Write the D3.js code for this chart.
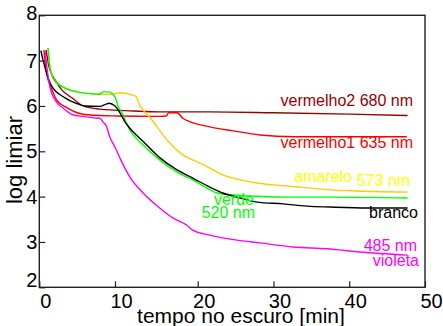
<!DOCTYPE html>
<html>
<head>
<meta charset="utf-8">
<script src="https://cdn.jsdelivr.net/npm/d3@7"></script>
<style>
  body { margin: 0; background: #fff; }
  svg { display: block; font-family: "Liberation Sans", Arial, sans-serif; }
</style>
</head>
<body>
<div id="chart"></div>
<script>
// dark adaptation curves, [time in min, log threshold]
var vermelho2 = [[0.9,7.23],[1.3,6.85],[2.1,6.57],[3.0,6.35],[4.3,6.18],[5.8,6.0],[8.0,5.93],[12.2,5.89],[15.4,5.87],[21.6,5.87],[30,5.85],[40,5.82],[47.7,5.79]];
var vermelho1 = [[0.6,7.23],[1.0,6.7],[1.7,6.35],[2.3,6.13],[3.7,5.96],[5.0,5.85],[6.7,5.8],[10.2,5.78],[15.4,5.77],[16.2,5.78],[16.5,5.85],[17.5,5.85],[18.2,5.73],[19.1,5.65],[21.6,5.54],[24.7,5.45],[28.2,5.36],[32.6,5.32],[37.1,5.32],[41.4,5.32],[47.6,5.32]];
var amarelo = [[1.15,7.28],[1.4,6.86],[1.8,6.62],[2.7,6.46],[4.1,6.35],[5.8,6.29],[8.0,6.26],[9.6,6.26],[10.6,6.29],[12.1,6.24],[12.6,6.2],[12.8,6.09],[13.4,5.91],[14.2,5.75],[16.3,5.25],[18.2,4.92],[20.3,4.74],[21.6,4.63],[23.3,4.48],[25.6,4.37],[27.8,4.3],[32.2,4.23],[37.5,4.15],[40.1,4.13],[47.7,4.1]];
var verde = [[1.15,7.28],[1.4,6.86],[1.8,6.62],[2.7,6.46],[4.1,6.35],[5.8,6.29],[8.0,6.26],[8.4,6.31],[9.1,6.31],[10.0,6.2],[10.4,5.98],[10.85,5.85],[11.45,5.6],[11.8,5.47],[13.4,5.14],[15.4,4.81],[17.5,4.54],[19.4,4.37],[21.2,4.19],[22.6,4.08],[24.3,4.04],[27.8,4.01],[32.2,3.99],[37.5,3.99],[47.7,3.97]];
var branco = [[0.2,7.22],[1.0,6.7],[1.6,6.45],[3.4,6.18],[4.7,6.07],[6.0,6.0],[8.0,5.99],[8.8,6.04],[9.2,6.06],[10.0,6.0],[10.6,5.85],[11.2,5.65],[11.8,5.51],[13.5,5.2],[15.4,4.86],[17.5,4.59],[19.4,4.41],[21.6,4.21],[23.3,4.08],[25.6,3.97],[27.8,3.88],[31.3,3.84],[34.4,3.79],[37.5,3.77],[42.4,3.75],[47.7,3.75]];
var violeta = [[0.75,7.23],[1.0,6.86],[1.4,6.42],[2.1,6.13],[3.1,5.96],[4.5,5.8],[6.3,5.76],[7.6,5.73],[8.0,5.73],[8.4,5.65],[8.9,5.54],[9.3,5.32],[10.0,5.09],[10.7,4.81],[11.8,4.43],[13.4,4.08],[15.4,3.75],[17.0,3.53],[18.7,3.37],[19.4,3.26],[21.6,3.15],[25.2,3.04],[28.2,2.98],[32.6,2.89],[37.1,2.85],[41.4,2.78],[47.7,2.71]];

var xTicks = [0, 10, 20, 30, 40, 50];
var yTicks = [2, 3, 4, 5, 6, 7, 8];

var w = 443, h = 326;

var svg = d3.select("#chart").append("svg")
    .attr("width", w)
    .attr("height", h);

// the source figure is slightly uneven between 10 and 20 min
var x = d3.scaleLinear()
    .domain([0, 10, 20, 50])
    .range([39.3, 115, 197.7, 425]);
var y = d3.scaleLinear()
    .domain([2, 8])
    .range([287.3, 15.3]);

var series = [
    {data: vermelho2, color: "#990000"},
    {data: vermelho1, color: "#ff0000"},
    {data: amarelo, color: "#ffcc00"},
    {data: verde, color: "#00ff00"},
    {data: branco, color: "#000000"},
    {data: violeta, color: "#ff00ff"}
];

var line = d3.line()
    .x(function (d) { return x(d[0]); })
    .y(function (d) { return y(d[1]); })
    .curve(d3.curveMonotoneX);

svg.selectAll(".curve")
    .data(series)
    .enter()
    .append("path")
    .classed("curve", true)
    .attr("d", function (d) { return line(d.data); })
    .attr("fill", "none")
    .attr("stroke", function (d) { return d.color; })
    .attr("stroke-width", 1.4);

// axes with inward ticks
var xAxis = d3.axisBottom(x)
    .tickValues(xTicks)
    .tickFormat(d3.format("d"))
    .tickSizeInner(-6)
    .tickSizeOuter(0)
    .tickPadding(7);
var yAxis = d3.axisLeft(y)
    .tickValues(yTicks)
    .tickFormat(d3.format("d"))
    .tickSizeInner(-6)
    .tickSizeOuter(0)
    .tickPadding(2);

var gx = svg.append("g")
    .attr("transform", "translate(0," + y(2) + ")")
    .call(xAxis);
gx.selectAll("text")
    .attr("dx", 6)
    .style("font-size", "20px")
    .style("font-family", "Liberation Sans, Arial, sans-serif")
    .attr("fill", "#000");

var gy = svg.append("g")
    .attr("transform", "translate(" + x(0) + ",0)")
    .call(yAxis);
gy.selectAll("text")
    .style("font-size", "20px")
    .style("font-family", "Liberation Sans, Arial, sans-serif")
    .attr("fill", "#000")
    .attr("dy", function (d) {
        if (d === 2) return "-0.05em";
        if (d === 8) return "0.2em";
        return "0.32em";
    });

svg.selectAll(".domain").remove();
svg.selectAll(".tick line").attr("stroke", "#222").attr("stroke-width", 1.2);

// frame
svg.append("rect")
    .attr("x", x(0))
    .attr("y", y(8))
    .attr("width", x(50) - x(0))
    .attr("height", y(2) - y(8))
    .attr("fill", "none")
    .attr("stroke", "#222")
    .attr("stroke-width", 1.4);

// axis titles
svg.append("text")
    .attr("x", 241)
    .attr("y", 322.5)
    .attr("text-anchor", "middle")
    .style("font-size", "21px")
    .text("tempo no escuro [min]");

svg.append("text")
    .attr("transform", "translate(22," + 160 + ") rotate(-90)")
    .attr("text-anchor", "middle")
    .style("font-size", "22px")
    .text("log limiar");

// curve labels
var labels = [
    {text: "vermelho2 680 nm", x: 413, y: 106, color: "#990000"},
    {text: "vermelho1 635 nm", x: 413, y: 148, color: "#ff0000"},
    {text: "amarelo", x: 352, y: 182, color: "#ffff00"},
    {text: "573 nm", x: 410, y: 186, color: "#ffff00"},
    {text: "verde", x: 254, y: 205, color: "#00ff00"},
    {text: "520 nm", x: 255, y: 218, color: "#00ff00"},
    {text: "branco", x: 418, y: 218, color: "#000000"},
    {text: "485 nm", x: 417, y: 250.5, color: "#ff00ff"},
    {text: "violeta", x: 419, y: 266, color: "#ff00ff"}
];

svg.selectAll(".label")
    .data(labels)
    .enter()
    .append("text")
    .classed("label", true)
    .attr("x", function (d) { return d.x; })
    .attr("y", function (d) { return d.y; })
    .attr("text-anchor", "end")
    .attr("fill", function (d) { return d.color; })
    .style("font-size", "16px")
    .text(function (d) { return d.text; });
</script>
</body>
</html>
